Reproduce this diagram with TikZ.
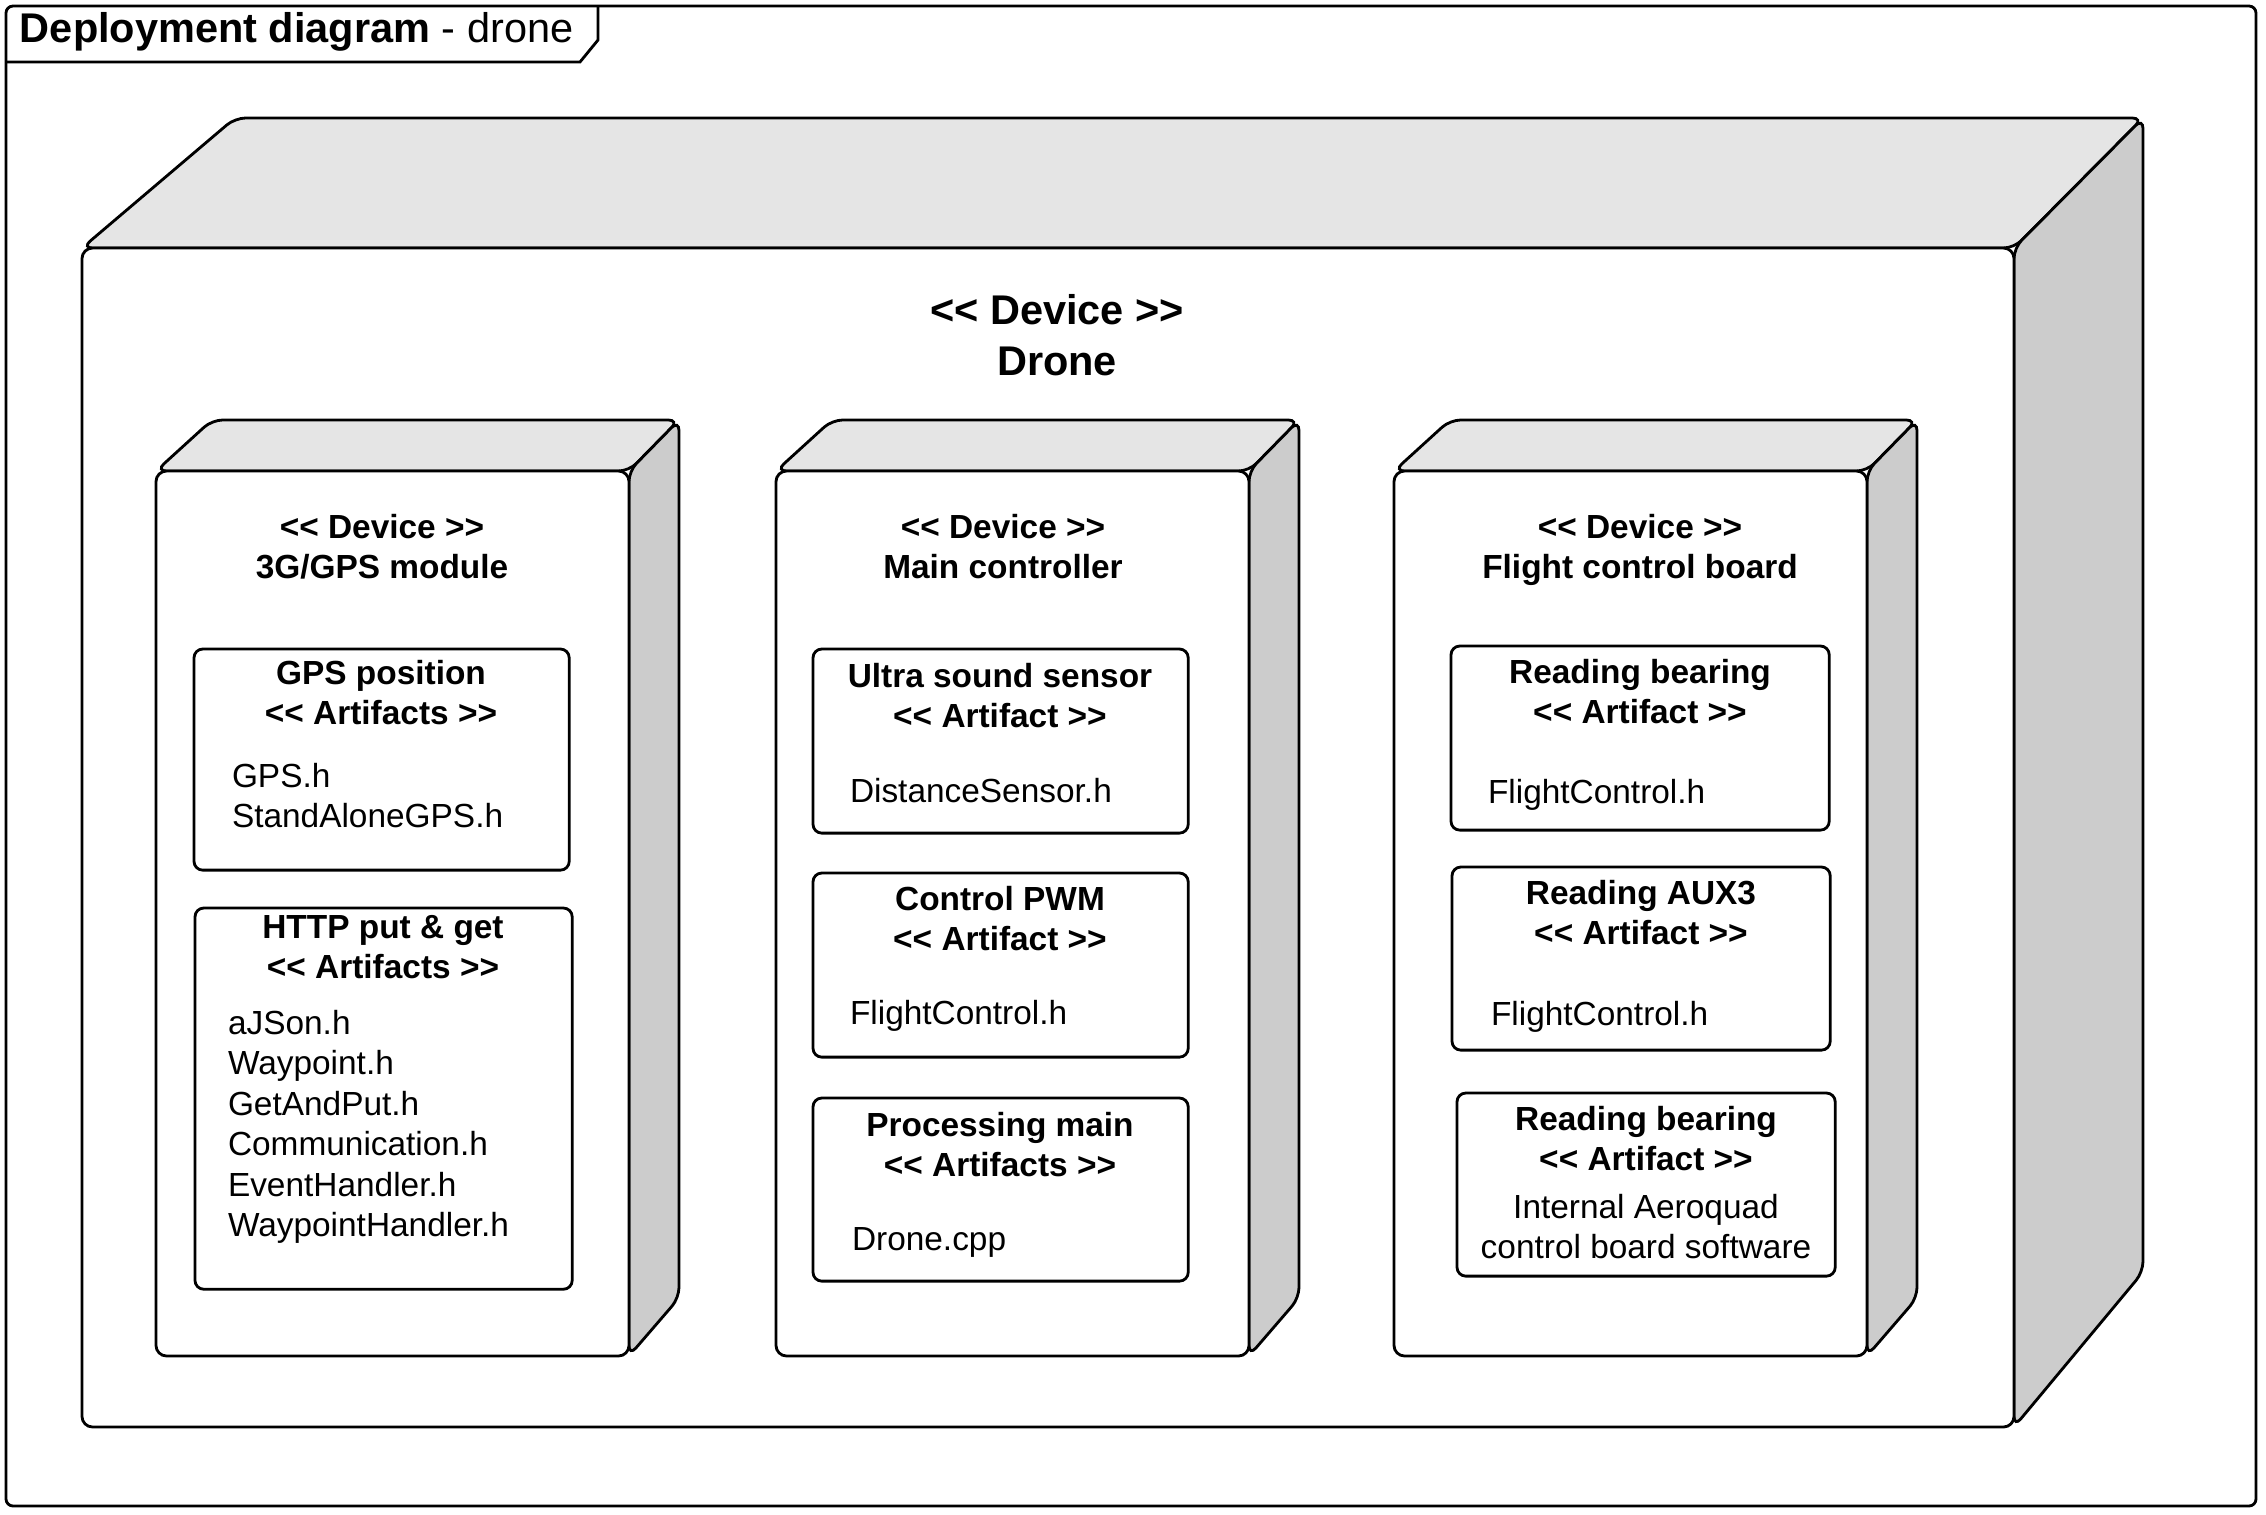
\documentclass[tikz,border=0pt]{standalone}
\usepackage{fontspec}
\setmainfont{Liberation Sans}
\definecolor{topgray}{HTML}{E5E5E5}
\definecolor{sidegray}{HTML}{CCCCCC}
\begin{document}
\begin{tikzpicture}[x=0.01cm,y=-0.01cm,line width=0.8pt,
    every node/.style={inner sep=0pt,outer sep=0pt},
    artifact/.style={draw,rounded corners=2.5pt,anchor=north west,minimum width=3.75cm},
    small/.style={font=\fontsize{9.5}{11.5}\selectfont},
    big/.style={font=\fontsize{11.8}{14.4}\selectfont\bfseries},
    titletext/.style={small,font=\fontsize{9.5}{11.5}\selectfont\bfseries,align=center,anchor=north},
    bodytext/.style={small,align=left,anchor=north west},]
        \useasboundingbox (0,0) rectangle (2266,1514);
        % frame and its tab
        \draw[rounded corners=2pt] (6,6) rectangle (2256,1506);
        \draw (6,62) -- (580,62) -- (598,40) -- (598,6);
        \node[font=\fontsize{11.8}{14}\selectfont,anchor=base west] (frametitle) at (20,42) {\textbf{Deployment diagram} - drone};
        % the drone device
        \filldraw[fill=topgray,rounded corners=3pt] (82,248) -- (235,118) -- (2143,118) -- (2014,248) -- cycle;
        \filldraw[fill=sidegray,rounded corners=3pt] (2014,248) -- (2143,118) -- (2143,1272) -- (2014,1427) -- cycle;
        \filldraw[fill=white,rounded corners=3pt] (82,248) rectangle (2014,1427);
        \node[big,align=center,anchor=north] (drone) at (1057,289) {\strut<{}< Device >{}>\\Drone};
        % the three inner devices
        \foreach \x in {156,776,1394}{
          \filldraw[fill=topgray,rounded corners=3pt] (\x,471) -- ({\x+56},420) -- ({\x+523},420) -- ({\x+473},471) -- cycle;
          \filldraw[fill=sidegray,rounded corners=3pt] ({\x+473},471) -- ({\x+523},420) -- ({\x+523},1298) -- ({\x+473},1356) -- cycle;
          \filldraw[fill=white,rounded corners=3pt] (\x,471) rectangle ({\x+473},1356);
        }
        \node[titletext] (gps) at (382,510) {\strut<{}< Device >{}>\\3G/GPS module};
        \node[titletext] (ctrl) at (1003,510) {\strut<{}< Device >{}>\\Main controller};
        \node[titletext] (fcb) at (1640,510) {\strut<{}< Device >{}>\\Flight control board};
        % artifacts of the 3G/GPS module
        \node[artifact,minimum height=2.21cm] (gpspos) at (194,649) {};
        \node[titletext] at (381,656) {\strut GPS position\\<{}< Artifacts >{}>};
        \node[bodytext] at (232,759) {\strut GPS.h\\StandAloneGPS.h};
        \node[artifact,minimum width=3.77cm,minimum height=3.81cm] (http) at (195,908) {};
        \node[titletext] at (383,910) {\strut HTTP put \& get\\<{}< Artifacts >{}>};
        \node[bodytext] at (228,1006) {\strut aJSon.h\\Waypoint.h\\GetAndPut.h\\Communication.h\\EventHandler.h\\WaypointHandler.h};
        % artifacts of the main controller
        \node[artifact,minimum height=1.84cm] (ultra) at (813,649) {};
        \node[titletext] at (1000,659) {\strut Ultra sound sensor\\<{}< Artifact >{}>};
        \node[bodytext] at (850,774) {\strut DistanceSensor.h};
        \node[artifact,minimum height=1.84cm] (pwm) at (813,873) {};
        \node[titletext] at (1000,882) {\strut Control PWM\\<{}< Artifact >{}>};
        \node[bodytext] at (850,996) {\strut FlightControl.h};
        \node[artifact,minimum height=1.83cm] (procmain) at (813,1098) {};
        \node[titletext] at (1000,1108) {\strut Processing main\\<{}< Artifacts >{}>};
        \node[bodytext] at (852,1222) {\strut Drone.cpp};
        % artifacts of the flight control board
        \node[artifact,minimum width=3.78cm,minimum height=1.84cm] (bearing) at (1451,646) {};
        \node[titletext] at (1640,655) {\strut Reading bearing\\<{}< Artifact >{}>};
        \node[bodytext] at (1488,775) {\strut FlightControl.h};
        \node[artifact,minimum width=3.78cm,minimum height=1.83cm] (aux) at (1452,867) {};
        \node[titletext] at (1641,876) {\strut Reading AUX3\\<{}< Artifact >{}>};
        \node[bodytext] at (1491,997) {\strut FlightControl.h};
        \node[artifact,minimum width=3.78cm,minimum height=1.83cm] (aeroquad) at (1457,1093) {};
        \node[titletext] at (1646,1102) {\strut Reading bearing\\<{}< Artifact >{}>};
        \node[small,align=center,anchor=north] at (1646,1190) {\strut Internal Aeroquad\\control board software};
      \end{tikzpicture}
\end{document}
